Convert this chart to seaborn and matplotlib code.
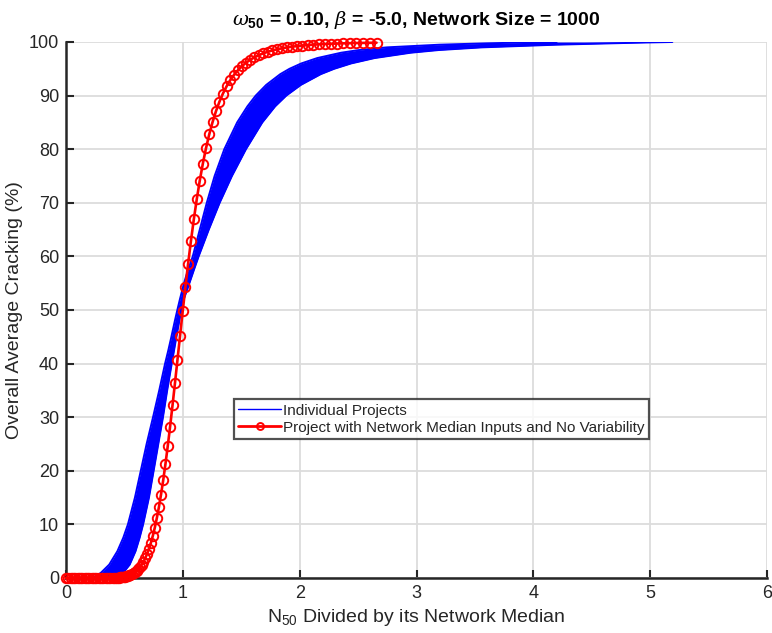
import matplotlib
matplotlib.use("Agg")
import matplotlib.pyplot as plt
from matplotlib.lines import Line2D
import numpy as np
import pandas as pd
import seaborn as sns

# ---- network-median project (no variability): cracking vs normalised N50 ----
median_x = [0.00, 0.02, 0.04, 0.06, 0.08, 0.10, 0.12, 0.14, 0.16, 0.18, 0.20, 0.22,
            0.24, 0.26, 0.28, 0.30, 0.32, 0.34, 0.36, 0.38, 0.40, 0.42, 0.44,
            0.450, 0.460, 0.471, 0.482, 0.493, 0.504, 0.516, 0.528, 0.540, 0.552,
            0.565, 0.578, 0.591, 0.605, 0.619, 0.633, 0.648, 0.663, 0.678, 0.694,
            0.710, 0.726, 0.743, 0.760, 0.777, 0.795, 0.813, 0.832, 0.851, 0.871,
            0.891, 0.912, 0.933, 0.954, 0.976, 0.999, 1.022, 1.045, 1.069, 1.094,
            1.119, 1.145, 1.171, 1.198, 1.226, 1.254, 1.283, 1.313, 1.343, 1.374,
            1.405, 1.438, 1.471, 1.505, 1.539, 1.575, 1.611, 1.648, 1.686, 1.725,
            1.765, 1.805, 1.847, 1.889, 1.933, 1.977, 2.023, 2.069, 2.117, 2.166,
            2.216, 2.267, 2.319, 2.372, 2.427, 2.483, 2.540, 2.599, 2.658]
median_cracking = [0.00, 0.00, 0.00, 0.00, 0.00, 0.00, 0.00, 0.00, 0.00, 0.00, 0.00, 0.00,
                   0.00, 0.00, 0.00, 0.00, 0.00, 0.01, 0.01, 0.02, 0.03, 0.04, 0.07,
                   0.08, 0.10, 0.13, 0.16, 0.20, 0.25, 0.31, 0.39, 0.48, 0.59,
                   0.73, 0.90, 1.10, 1.35, 1.66, 2.03, 2.49, 3.04, 3.68, 4.49,
                   5.43, 6.52, 7.85, 9.38, 11.13, 13.19, 15.53, 18.24, 21.23, 24.62,
                   28.25, 32.27, 36.43, 40.69, 45.17, 49.80, 54.29, 58.59, 62.82, 66.91,
                   70.63, 74.14, 77.28, 80.16, 82.77, 85.02, 87.05, 88.84, 90.37, 91.71,
                   92.85, 93.87, 94.73, 95.47, 96.10, 96.65, 97.12, 97.52, 97.87, 98.16,
                   98.42, 98.63, 98.82, 98.98, 99.12, 99.23, 99.34, 99.42, 99.50, 99.57,
                   99.62, 99.67, 99.71, 99.75, 99.78, 99.81, 99.83, 99.85, 99.87]

# ---- envelope of the individual project curves (x at each cracking level) ----
band_cracking = [0, 0.5, 1, 2.5, 5, 7.5, 10, 15, 20, 25, 30, 35, 40, 42.5, 45, 48,
                 50, 52, 55, 57.5, 60, 65, 70, 75, 80, 85, 88, 90, 92, 94, 95,
                 96, 97, 98, 98.5, 99, 99.5, 99.75, 99.9, 100]
band_left = [0.22, 0.27, 0.30, 0.37, 0.44, 0.49, 0.53, 0.59, 0.64, 0.69, 0.745,
             0.798, 0.848, 0.876, 0.902, 0.932,
             0.953, 0.975, 1.010, 1.045, 1.085, 1.145, 1.205, 1.272, 1.355, 1.465,
             1.553, 1.624, 1.714, 1.834, 1.913, 2.014, 2.150, 2.355, 2.508, 2.747,
             3.20, 3.60, 3.90, 4.20]
band_right = [0.40, 0.45, 0.49, 0.545, 0.595, 0.63, 0.66, 0.71, 0.75, 0.79, 0.83,
              0.866, 0.905, 0.925, 0.945, 0.970,
              0.987, 1.008, 1.056, 1.095, 1.135, 1.222, 1.315, 1.420, 1.540, 1.680,
              1.79, 1.885, 2.01, 2.18, 2.295, 2.44, 2.64, 2.95, 3.19, 3.56,
              4.20, 4.66, 4.95, 5.19]

x_ticks = [0, 1, 2, 3, 4, 5, 6]
y_ticks = [0, 10, 20, 30, 40, 50, 60, 70, 80, 90, 100]

sns.set_theme(style="white")
plt.rcParams["font.family"] = ["Liberation Sans", "DejaVu Sans"]
plt.rcParams["mathtext.fontset"] = "custom"
plt.rcParams["mathtext.rm"] = "Liberation Sans"
plt.rcParams["mathtext.bf"] = "Liberation Sans:bold"
plt.rcParams["mathtext.it"] = "DejaVu Serif:italic"

fig = plt.figure(figsize=(7.72, 6.33), dpi=100)
ax = fig.add_axes([66 / 772, 55 / 633, 701 / 772, 536 / 633])

band = pd.DataFrame({"cracking": band_cracking, "left": band_left, "right": band_right})
median = pd.DataFrame({"x": median_x, "cracking": median_cracking})

# individual projects: filled envelope with its edges
ax.fill_betweenx(band["cracking"], band["left"], band["right"],
                 color="#0000ff", linewidth=0, zorder=2)
sns.lineplot(data=band, x="left", y="cracking", sort=False, ax=ax,
             color="#0000ff", linewidth=1.4, zorder=2)
sns.lineplot(data=band, x="right", y="cracking", sort=False, ax=ax,
             color="#0000ff", linewidth=1.4, zorder=2)

# project with network median inputs
sns.lineplot(data=median, x="x", y="cracking", sort=False, ax=ax,
             color="#ff0000", linewidth=1.9, marker="o", markersize=6.8,
             markerfacecolor="none", markeredgecolor="#ff0000",
             markeredgewidth=1.4, clip_on=False, zorder=4)

ax.set_xlim(0, 6)
ax.set_ylim(0, 100)
ax.set_xticks(x_ticks)
ax.set_yticks(y_ticks)
ax.grid(True, color="#dcdcdc", linewidth=1.3)
ax.set_axisbelow(True)
for side in ("top", "right"):
    ax.spines[side].set_visible(False)
for side in ("left", "bottom"):
    ax.spines[side].set_color("#262626")
    ax.spines[side].set_linewidth(1.8)
    ax.spines[side].set_zorder(3)
ax.tick_params(axis="both", which="major", direction="in", length=6, width=1.5,
               color="#262626", labelcolor="#262626", labelsize=13, pad=5,
               bottom=True, left=True, top=False, right=False)

ax.set_xlabel(r"N$_{50}$ Divided by its Network Median", fontsize=14,
              color="#262626", labelpad=4)
ax.set_ylabel("Overall Average Cracking (%)", fontsize=14, color="#262626",
              labelpad=4)
ax.set_title(r"$\omega_{\mathbf{50}}$ = 0.10, $\beta$ = -5.0, Network Size = 1000",
             fontsize=14, fontweight="bold", color="black", pad=12)

handles = [
    Line2D([], [], color="#0000ff", linewidth=1),
    Line2D([], [], color="#ff0000", linewidth=2, marker="o", markersize=5,
           markerfacecolor="none", markeredgewidth=1.4),
]
leg = ax.legend(handles, ["Individual Projects",
                          "Project with Network Median Inputs and No Variability"],
                loc="lower left", bbox_to_anchor=(0.239, 0.259), fontsize=11,
                frameon=True, fancybox=False, borderpad=0.3, handlelength=2.8,
                handletextpad=0.15, labelspacing=0.2, borderaxespad=0)
leg.get_frame().set_edgecolor("#262626")
leg.get_frame().set_linewidth(1.6)
leg.set_zorder(6)

fig.savefig("out.png", dpi=100)
